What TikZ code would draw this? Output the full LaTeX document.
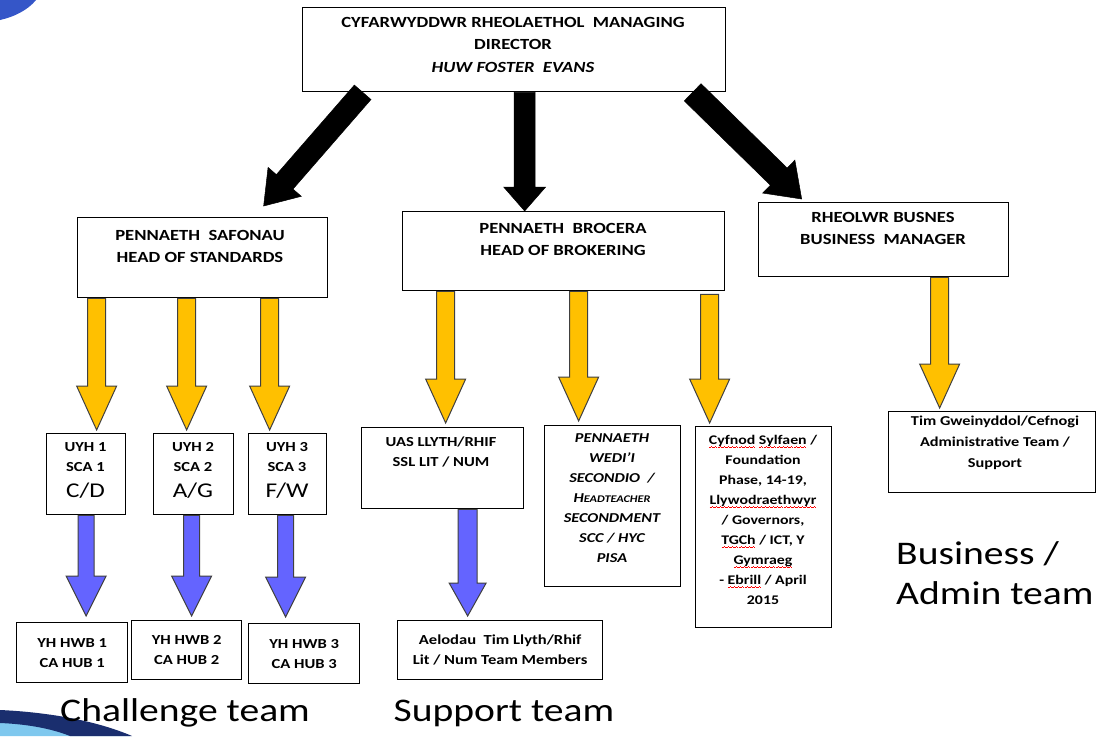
\documentclass[tikz,border=0pt]{standalone}
\usepackage{fontspec}
\setmainfont{Carlito}[FakeStretch=1.2]
\usetikzlibrary{calc}
\newcommand\wavepiece{\hbox{\rule[-3.4pt]{1pt}{0.7pt}\rule[-2.8pt]{1pt}{0.7pt}\rule[-2.2pt]{1pt}{0.7pt}\rule[-2.8pt]{1pt}{0.7pt}}}
\newcommand\spellw[1]{\setbox0\hbox{#1}\rlap{\color{red}\hbox to\wd0{\xleaders\wavepiece\hfil}}\box0\relax}
\definecolor{orangeA}{HTML}{FFC000}
\definecolor{blueA}{HTML}{6464FF}
\definecolor{decoBlue}{HTML}{3556C8}
\definecolor{decoNavy}{HTML}{1A2E6E}
\definecolor{decoCyan}{HTML}{7FC8EE}
% #1 style, #2 start, #3 end, #4 shaft half width, #5 head half width, #6 head length
\newcommand\fatarrow[6]{%
  \coordinate (fa-s) at (#2);
  \coordinate (fa-e) at (#3);
  \coordinate (fa-b) at ($(fa-e)!#6!(fa-s)$);
  \filldraw[#1] ($(fa-s)!#4!90:(fa-e)$) -- ($(fa-b)!#4!90:(fa-e)$) -- ($(fa-b)!#5!90:(fa-e)$)
     -- (fa-e) -- ($(fa-b)!#5!-90:(fa-e)$) -- ($(fa-b)!#4!-90:(fa-e)$) -- ($(fa-s)!#4!-90:(fa-e)$) -- cycle;}
\begin{document}
\begin{tikzpicture}[x=1pt,y=-1pt,
  box/.style={draw=black, line width=1.3pt, fill=white, inner sep=0pt, anchor=north west, align=center,
     font=\fontsize{13.8}{20}\selectfont\bfseries},
  hdr/.style={anchor=north, align=center, inner sep=0pt, font=\fontsize{15.5}{22.5}\selectfont\bfseries},
  smalltxt/.style={anchor=north, align=center, inner sep=0pt, font=\fontsize{13.8}{20}\selectfont\bfseries},
  areatxt/.style={inner sep=0pt, font=\fontsize{21}{24}\selectfont},
  bigtxt/.style={inner sep=0pt, font=\fontsize{33}{40}\selectfont},
  blackarrow/.style={fill=black, draw=black, line width=0.5pt},
  orangearrow/.style={fill=orangeA, draw=black!75, line width=1pt},
  bluearrow/.style={fill=blueA, draw=black!75, line width=1pt}]
\useasboundingbox (0,0) rectangle (1097,736);
\fill[white] (0,0) rectangle (1097,736);
% slide decorations
\fill[decoBlue] (0,0) -- (36,0) .. controls (28,10) and (14,17) .. (0,20) -- cycle;
\fill[decoCyan] (0,716) .. controls (45,718) and (95,726) .. (130,736) -- (0,736) -- cycle;
\fill[decoNavy] (0,710) .. controls (45,712) and (95,720) .. (132,736) -- (70,736) .. controls (50,728) and (25,724) .. (0,723) -- cycle;

% boxes
\node[box, minimum width=423pt, minimum height=84pt] (top) at (302,7) {};
\node[box, minimum width=250pt, minimum height=80pt] (std) at (77,217) {};
\node[box, minimum width=322pt, minimum height=79pt] (brk) at (402,211) {};
\node[box, minimum width=250pt, minimum height=74pt] (bus) at (758,202) {};
\node[box, minimum width=79pt, minimum height=81pt] (uyh1) at (46,433) {};
\node[box, minimum width=80pt, minimum height=81pt] (uyh2) at (153,433) {};
\node[box, minimum width=78pt, minimum height=81pt] (uyh3) at (248,433) {};
\node[box, minimum width=111pt, minimum height=60pt] (hub1) at (16,622) {YH HWB 1\\CA HUB 1};
\node[box, minimum width=110pt, minimum height=59pt] (hub2) at (131,620) {YH HWB 2\\CA HUB 2};
\node[box, minimum width=111pt, minimum height=60pt] (hub3) at (248,623) {YH HWB 3\\CA HUB 3};
\node[box, minimum width=162pt, minimum height=81pt] (uas) at (361,427) {};
\node[box, minimum width=136pt, minimum height=161pt] (pen) at (544,425) {};
\node[box, minimum width=136pt, minimum height=201pt] (cyf) at (695,426) {};
\node[box, minimum width=207pt, minimum height=81pt] (adm) at (888,411) {};
\node[box, minimum width=205pt, minimum height=59pt] (ael) at (397,620) {Aelodau\ \ Tim Llyth/Rhif\\Lit / Num Team Members};

% box texts
\node[hdr] (topT) at (513,17) {CYFARWYDDWR RHEOLAETHOL\ \ MANAGING\\DIRECTOR\\\textit{HUW FOSTER\ \ EVANS}};
\node[hdr] (stdT) at (200,230) {PENNAETH\ \ SAFONAU\\HEAD OF STANDARDS};
\node[hdr] (brkT) at (563,223) {PENNAETH\ \ BROCERA\\HEAD OF\ BROKERING};
\node[hdr] (busT) at (883,212) {RHEOLWR BUSNES\\BUSINESS\ \ MANAGER};
\node[smalltxt] (uyh1T) at (85.5,442) {UYH 1\\SCA 1};
\node[smalltxt] (uyh2T) at (193,442) {UYH 2\\SCA 2};
\node[smalltxt] (uyh3T) at (287,442) {UYH 3\\SCA 3};
\node[areatxt] (uyh1A) at (85.5,491) {C/D};
\node[areatxt] (uyh2A) at (193,491) {A/G};
\node[areatxt] (uyh3A) at (287,491) {F/W};
\node[smalltxt] (uasT) at (441,437) {UAS LLYTH/RHIF\\SSL LIT\ / NUM};
\node[smalltxt, font=\fontsize{13.6}{20}\selectfont\bfseries\itshape] (penT) at (612,433)
  {PENNAETH\\WEDI'I\\SECONDIO\ \ /\\H{\fontsize{10.2}{20}\selectfont EADTEACHER}\\SECONDMENT\\SCC / HYC\\PISA};
\node[smalltxt, font=\fontsize{13.2}{20}\selectfont\bfseries] (cyfT) at (763,435)
  {\spellw{Cyfnod} \spellw{Sylfaen} /\\Foundation\\Phase, 14-19,\\\spellw{Llywodraethwyr}\\/ Governors,\\\spellw{TGCh} / ICT, Y\\\spellw{Gymraeg}\\- \spellw{Ebrill} / April\\2015};
\node[smalltxt, font=\fontsize{13.6}{21}\selectfont\bfseries] (admT) at (995,416)
  {Tim Gweinyddol/Cefnogi\\Administrative Team /\\Support};

% team labels
\node[bigtxt] (chal) at (185,713) {Challenge team};
\node[bigtxt] (supp) at (504,713) {Support team};
\node[bigtxt, anchor=north west, align=left] (busl) at (896,541) {Business /\\Admin team};

% black arrows
\fatarrow{blackarrow}{[xshift=-151.5pt]top.south}{[xshift=61pt,yshift=11pt]std.north}{11pt}{22pt}{32pt}
\fatarrow{blackarrow}{[xshift=10.5pt]top.south}{brk.north -| fa-s}{10.5pt}{21pt}{24pt}
\fatarrow{blackarrow}{[xshift=178.5pt]top.south}{[xshift=-82pt,yshift=3pt]bus.north}{12pt}{23pt}{32pt}
% orange arrows
\fatarrow{orangearrow}{[xshift=-106pt]std.south}{$(uyh1.north -| fa-s)+(0,-3)$}{9pt}{20pt}{44pt}
\fatarrow{orangearrow}{[xshift=-16pt]std.south}{$(uyh2.north -| fa-s)+(0,-3)$}{9pt}{20pt}{44pt}
\fatarrow{orangearrow}{[xshift=67pt]std.south}{$(uyh3.north -| fa-s)+(0,-3)$}{9pt}{20pt}{44pt}
\fatarrow{orangearrow}{[xshift=-118pt]brk.south}{$(uas.north -| fa-s)+(0,-4)$}{9pt}{20pt}{44pt}
\fatarrow{orangearrow}{[xshift=15pt]brk.south}{$(pen.north -| fa-s)+(0,-4)$}{9pt}{20pt}{44pt}
\fatarrow{orangearrow}{[xshift=146pt,yshift=-3pt]brk.south}{$(cyf.north -| fa-s)+(0,-3)$}{9pt}{20pt}{44pt}
\fatarrow{orangearrow}{[xshift=56pt]bus.south}{$(adm.north -| fa-s)+(0,-3)$}{9pt}{20pt}{44pt}
% blue arrows
\fatarrow{bluearrow}{uyh1.south}{$(hub1.north -| fa-s)+(0,-6)$}{8pt}{20pt}{40pt}
\fatarrow{bluearrow}{[xshift=-2pt]uyh2.south}{$(hub2.north -| fa-s)+(0,-4)$}{8pt}{20pt}{40pt}
\fatarrow{bluearrow}{[xshift=-2pt]uyh3.south}{$(hub3.north -| fa-s)+(0,-6)$}{8pt}{20pt}{40pt}
\fatarrow{bluearrow}{[xshift=25pt]uas.south}{$(ael.north -| fa-s)+(0,-4)$}{9.5pt}{18.5pt}{33pt}
\end{tikzpicture}
\end{document}
